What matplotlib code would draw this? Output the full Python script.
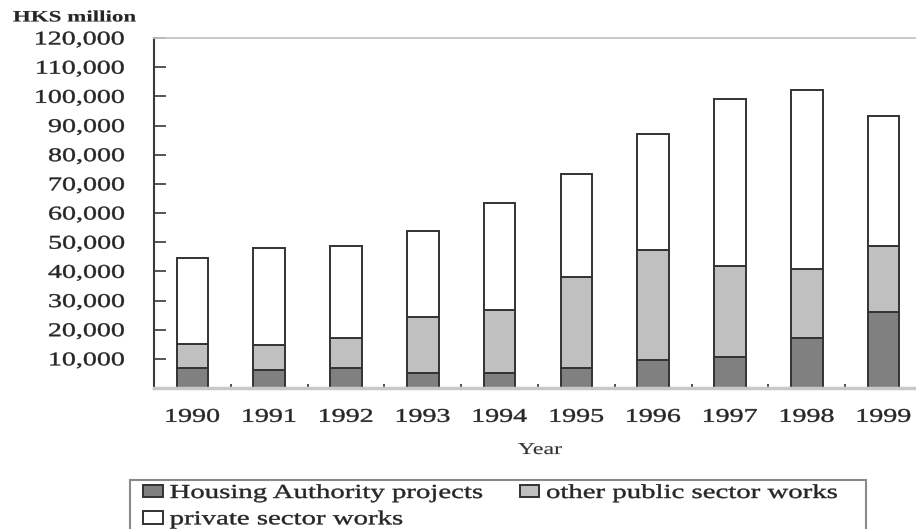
import matplotlib
matplotlib.use("Agg")
import matplotlib.pyplot as plt
import numpy as np
from matplotlib.patheffects import AbstractPathEffect
from matplotlib.transforms import Affine2D
from matplotlib.patches import Rectangle

# ---- data (HK$ million) ----
years = ["1990", "1991", "1992", "1993", "1994", "1995", "1996", "1997", "1998", "1999"]
housing_authority = [6700, 6300, 6900, 5200, 5200, 6700, 9700, 10600, 17000, 26100]
other_public = [8500, 8600, 10100, 19200, 21700, 31400, 37600, 31300, 23700, 22700]
private_sector = [29200, 33000, 31800, 29500, 36600, 35400, 39800, 57100, 61300, 44600]
series_labels = ["Housing Authority projects", "other public sector works", "private sector works"]
ytick_values = [10000, 20000, 30000, 40000, 50000, 60000, 70000, 80000, 90000, 100000, 110000, 120000]


class HStretch(AbstractPathEffect):
    """Stretch rendered text horizontally about an anchor (with a thin stroke)."""
    def __init__(self, sx=1.44, anchor="center", stroke=0.3):
        super().__init__()
        self.sx = sx
        self.anchor = anchor
        self.stroke = stroke

    def draw_path(self, renderer, gc, tpath, affine, rgbFace=None):
        ext = tpath.get_extents(affine)
        if self.anchor == "left":
            a = ext.x0
        elif self.anchor == "right":
            a = ext.x1
        else:
            a = 0.5 * (ext.x0 + ext.x1)
        t = affine + Affine2D().translate(-a, 0).scale(self.sx, 1).translate(a, 0)
        gc0 = renderer.new_gc()
        gc0.copy_properties(gc)
        if self.stroke > 0 and rgbFace is not None:
            gc0.set_linewidth(self.stroke)
            gc0.set_foreground(rgbFace)
        renderer.draw_path(gc0, tpath, t, rgbFace)
        gc0.restore()


plt.rcParams["font.family"] = ["Liberation Serif", "DejaVu Serif"]
TXT = "#262626"

W, H = 916, 529
fig = plt.figure(figsize=(W / 100, H / 100), dpi=100)
left_px, right_px, top_px, bot_px = 154, 916, 38, 388
ax = fig.add_axes([left_px / W, 1 - bot_px / H, (right_px - left_px) / W, (bot_px - top_px) / H])

x = np.arange(len(years))
ha = np.array(housing_authority)
op = np.array(other_public)
pv = np.array(private_sector)
bw = 0.41
ec = "#333333"
b1 = ax.bar(x, ha, width=bw, color="#808080", edgecolor=ec, linewidth=1.4, label=series_labels[0])
b2 = ax.bar(x, op, bottom=ha, width=bw, color="#c0c0c0", edgecolor=ec, linewidth=1.4, label=series_labels[1])
b3 = ax.bar(x, pv, bottom=ha + op, width=bw, color="white", edgecolor=ec, linewidth=1.4, label=series_labels[2])

unit = 76.8
ax.set_xlim(-0.5, (right_px - left_px) / unit - 0.5)
ax.set_ylim(0, 120000)

# spines
ax.spines["right"].set_visible(False)
ax.spines["left"].set_color("#3a3a3a")
ax.spines["left"].set_linewidth(1.5)
ax.spines["bottom"].set_color("#c8c8c8")
ax.spines["bottom"].set_linewidth(2.5)
ax.spines["top"].set_color("#c4c4c4")
ax.spines["top"].set_linewidth(1.3)

# y ticks
ax.set_yticks(ytick_values)
ax.set_yticklabels([f"{v:,}" for v in ytick_values])
ax.tick_params(axis="y", direction="in", length=8.6, width=1.2, color="#3a3a3a",
               pad=21, labelsize=14, labelcolor=TXT)

# x ticks
ax.set_xticks(x)
ax.set_xticklabels(years)
ax.set_xticks(x[:-1] + 0.5, minor=True)
ax.tick_params(axis="x", which="major", length=0, pad=15, labelsize=14, labelcolor=TXT)
ax.tick_params(axis="x", which="minor", direction="in", length=3, width=1.2, color="#333333")

for t in ax.get_yticklabels():
    t.set_path_effects([HStretch(1.44, "right")])
for t in ax.get_xticklabels():
    t.set_path_effects([HStretch(1.44, "center")])

# axis label
ax.set_xlabel("Year", fontsize=12, color="#333333")
ax.xaxis.set_label_coords((540 - left_px) / (right_px - left_px), (bot_px - 450) / (bot_px - top_px))
ax.xaxis.label.set_va("center")
ax.xaxis.label.set_path_effects([HStretch(1.44, "center", 0.1)])

# unit label
t_unit = fig.text(13 / W, 1 - 17.5 / H, "HKS million", ha="left", va="center",
                  fontsize=11.5, fontweight="bold", color=TXT)
t_unit.set_path_effects([HStretch(1.44, "left", 0.1)])

# legend (row-major order: HA, other / private)
leg = fig.legend([b1, b3, b2], [series_labels[0], series_labels[2], series_labels[1]],
                 ncol=2, frameon=False, loc="upper left",
                 bbox_to_anchor=(143 / W, 1 - 484 / H), borderaxespad=0, borderpad=0,
                 fontsize=14.3, handlelength=1.0, handleheight=0.6, handletextpad=0.35,
                 columnspacing=6.7, labelspacing=0.37)
for t in leg.get_texts():
    t.set_color(TXT)
    t.set_path_effects([HStretch(1.45, "left")])

frame = Rectangle((130 / W, -0.01), (866 - 130) / W, 0.01 + (1 - 480 / H),
                  transform=fig.transFigure, fill=False, edgecolor="#8a8a8a", linewidth=1.5)
fig.add_artist(frame)

fig.savefig("out.png", dpi=100)
